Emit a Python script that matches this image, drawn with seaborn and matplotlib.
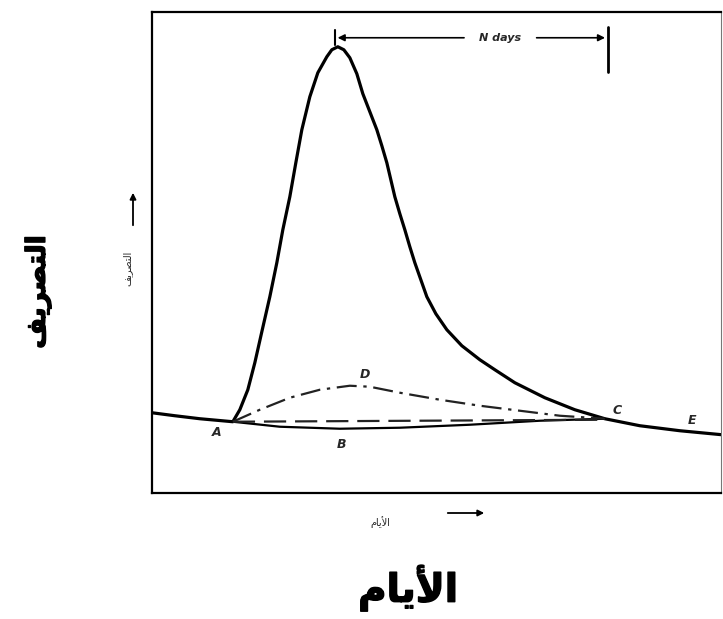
import numpy as np
import pandas as pd
import matplotlib
matplotlib.use('Agg')
import matplotlib.pyplot as plt
import matplotlib.patheffects as pe
import seaborn as sns

# hydrograph (x: days, y: discharge, arbitrary units)
flow_x = [0.0, 2.3, 4.8, 8.1, 8.8, 9.6, 10.3, 11.0, 11.8, 12.5, 13.1, 13.8,
          14.4, 15.0, 15.8, 16.6, 17.5, 18.0, 18.6, 19.2, 19.8, 20.5, 21.1,
          21.8, 22.5, 23.0, 23.5, 23.9, 24.3, 24.8, 25.3, 25.8, 26.3, 26.9,
          27.5, 28.4, 29.5, 31.0, 32.8, 34.3, 36.3, 39.3, 42.3, 45.3, 48.8,
          52.8, 57.0]
flow_y = [8.0, 7.7, 7.4, 7.1, 8.3, 10.3, 13.0, 16.1, 19.6, 23.0, 26.3, 29.6,
          33.0, 36.3, 39.6, 42.0, 43.6, 44.3, 44.6, 44.3, 43.5, 41.9, 39.9,
          38.1, 36.3, 34.7, 33.0, 31.3, 29.6, 27.9, 26.3, 24.6, 23.0, 21.3,
          19.6, 17.9, 16.3, 14.7, 13.3, 12.3, 11.0, 9.5, 8.3, 7.4, 6.7,
          6.2, 5.8]

# baseflow under the hydrograph A -> B -> C
base_x = [8.1, 12.8, 18.8, 24.8, 31.8, 38.8, 45.3]
base_y = [7.1, 6.6, 6.4, 6.5, 6.8, 7.2, 7.4]

# straight-line separation A -> C
straight_x = [8.1, 45.3]
straight_y = [7.1, 7.3]

# separation through D
sep_x = [8.1, 10.8, 13.8, 16.8, 19.8, 21.8, 24.8, 28.8, 32.8, 36.8, 40.8, 45.3]
sep_y = [7.1, 8.3, 9.5, 10.3, 10.7, 10.6, 10.0, 9.3, 8.7, 8.2, 7.7, 7.4]

point_labels = ['A', 'B', 'C', 'D', 'E']
point_x = [6.5, 19.0, 46.5, 21.3, 54.0]
point_y = [6.0, 4.8, 8.2, 11.8, 7.2]

peak_x = 18.3
c_x = 45.6
ndays_y = 45.5

# hand-shaped arabic (presentation forms, visual order)
days_label = '\uFEE1\uFE8E\uFEF3\uFEF7\uFE8D'
flow_label = '\uFED2\uFEF3\uFEAE\uFEBC\uFE98\uFEDF\uFE8D'

sns.set_style('white')
plt.rcParams['font.family'] = ['DejaVu Sans']

fig = plt.figure(figsize=(7.23, 6.19), dpi=100)
ax = fig.add_axes([0.210, 0.204, 0.787, 0.777])

sns.lineplot(x=flow_x, y=flow_y, sort=False, ax=ax, color='black', lw=2.3)
sns.lineplot(x=base_x, y=base_y, sort=False, ax=ax, color='black', lw=1.6)
sns.lineplot(x=straight_x, y=straight_y, sort=False, ax=ax, color='#222222',
             lw=1.6, linestyle=(0, (10, 4)))
sns.lineplot(x=sep_x, y=sep_y, sort=False, ax=ax, color='#222222',
             lw=1.6, linestyle=(0, (9, 3, 1.5, 3)))

for lab, x, y in zip(point_labels, point_x, point_y):
    ax.text(x, y, lab, fontsize=9, fontstyle='italic', fontweight='bold',
            ha='center', va='center')

# N days span
ax.plot([peak_x, peak_x], [44.8, 46.3], color='black', lw=1.5)
ax.plot([c_x, c_x], [42.1, 46.6], color='black', lw=2.0)
ax.annotate('', xy=(peak_x, ndays_y), xytext=(31.5, ndays_y),
            arrowprops=dict(arrowstyle='-|>', color='black', lw=1.2,
                            mutation_scale=10))
ax.annotate('', xy=(c_x, ndays_y), xytext=(38.2, ndays_y),
            arrowprops=dict(arrowstyle='-|>', color='black', lw=1.2,
                            mutation_scale=10))
ax.text(34.8, ndays_y, 'N days', fontsize=8, fontstyle='italic',
        fontweight='bold', ha='center', va='center')

ax.set_xlim(0, 56.9)
ax.set_ylim(0, 48.1)
ax.set_xticks([])
ax.set_yticks([])
for s in ax.spines.values():
    s.set_color('black')
    s.set_linewidth(1.6)
ax.spines['right'].set_linewidth(0.8)
ax.spines['right'].set_color('#777777')

# small labels with arrows outside the box
fig.text(127 / 723, 1 - 268 / 619, flow_label, rotation=90, fontsize=7,
         ha='center', va='center')
fig.add_artist(matplotlib.patches.FancyArrowPatch(
    (133 / 723, 1 - 228 / 619), (133 / 723, 1 - 190 / 619),
    transform=fig.transFigure, arrowstyle='-|>', mutation_scale=9,
    color='black', lw=1.3))
fig.text(380 / 723, 1 - 522 / 619, days_label, fontsize=7,
         ha='center', va='center')
fig.add_artist(matplotlib.patches.FancyArrowPatch(
    (445 / 723, 1 - 513 / 619), (487 / 723, 1 - 513 / 619),
    transform=fig.transFigure, arrowstyle='-|>', mutation_scale=9,
    color='black', lw=1.3))

# big axis titles, slightly heavier like the scan
heavy = [pe.withStroke(linewidth=1.0, foreground='black')]
fig.text(38 / 723, 1 - 292 / 619, flow_label, rotation=90, fontsize=19,
         fontweight='bold', ha='center', va='center', color='black',
         path_effects=heavy)
fig.text(408 / 723, 1 - 588 / 619, days_label, fontsize=28,
         fontweight='bold', ha='center', va='center', color='black',
         path_effects=heavy)

fig.savefig('out.png', dpi=100)
plt.close()
